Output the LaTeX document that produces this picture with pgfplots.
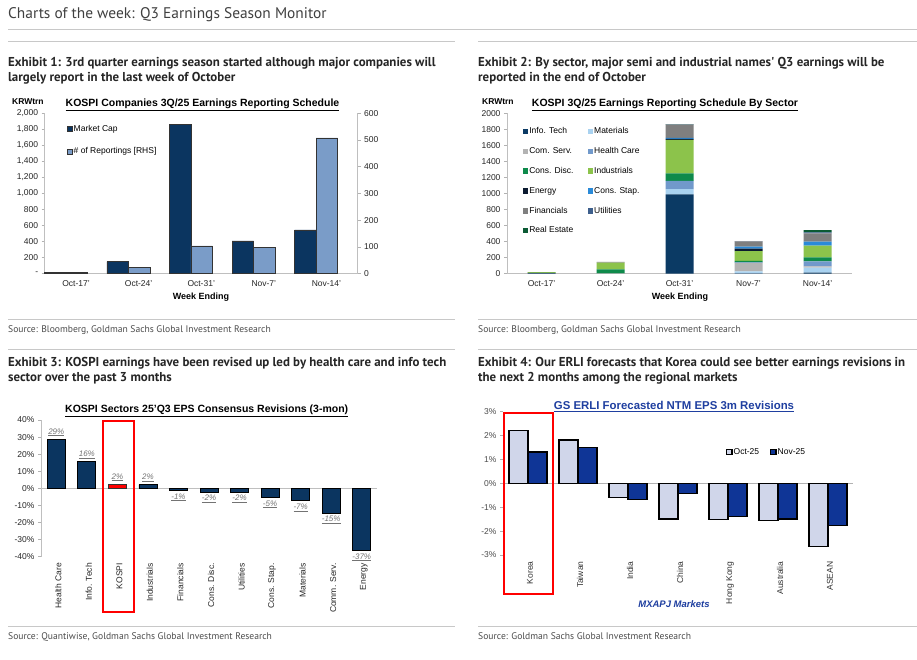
\documentclass[border=0pt]{standalone}
\usepackage{fontspec}
\setmainfont{Liberation Sans}
\newfontfamily\hd{PT Sans}
\usepackage{pgfplots}
\pgfplotsset{compat=1.18}
\usepackage{pgfplotstable}

\definecolor{mcap}{HTML}{0B3560}
\definecolor{rep}{HTML}{7A9CC8}
\definecolor{sIT}{HTML}{0B3A64}
\definecolor{sMat}{HTML}{A9D2F0}
\definecolor{sCom}{HTML}{B3B3B3}
\definecolor{sHC}{HTML}{7199CB}
\definecolor{sCD}{HTML}{0E8A4B}
\definecolor{sInd}{HTML}{8CC34B}
\definecolor{sEn}{HTML}{0B1A30}
\definecolor{sCS}{HTML}{2A8AD8}
\definecolor{sFin}{HTML}{7F7F7F}
\definecolor{sUt}{HTML}{3D5F8C}
\definecolor{sRE}{HTML}{0B5A34}
\definecolor{octc}{HTML}{D0D6EA}
\definecolor{novc}{HTML}{0F3596}
\definecolor{gsblue}{HTML}{1F3FA0}
\definecolor{rule}{HTML}{C8C8C8}

% sector breakdown, KRW trn, bottom to top
\pgfplotstableread{
x  it   mat com hc  cd  ind en  cs  fin ut  re
0  10   0   0   0   0   8   0   0   2   0   0
1  0    0   3   0   50  85  0   0   8   0   0
2  990  66  0   100 96  415 15  10  168 3   2
3  3    25  108 5   20  121 30  25  67  3   0
4  12   63  17  63  50  146 0   50  103 10  29
}\sectors

% 3m EPS revisions (%), up and down
\pgfplotstableread{
x  y      lab
0  28.8   29
1  15.8   16
3  2.2    2
}\revup
\pgfplotstableread{
x  y      lab
4  -1.4   -1
5  -2.1   -2
6  -2.2   -2
7  -5.4   -5
8  -7.3   -7
9  -14.6  -15
10 -36.5  -37
}\revdn

\pgfplotsset{
  gs/.style={scale only axis, clip=false,
    axis line style={draw=black!25, line width=0.6pt},
    tick style={draw=black!30, line width=0.6pt},
    tick align=outside, major tick length=3pt,
    tick label style={font=\fontsize{8.5}{10}\selectfont, text=black!85},
    /pgf/number format/assume math mode=true,
    /pgf/number format/1000 sep={}},
  sqimg/.style={legend image code/.code={\draw[##1] (0pt,-2.6pt) rectangle (5.2pt,2.6pt);}},
  sqfill/.style={legend image code/.code={\fill[##1] (0pt,-2.8pt) rectangle (5.6pt,2.8pt);}},
  sqlegend/.style={every axis plot post/.append style={sqimg}},
  sqflegend/.style={every axis plot post/.append style={sqfill}},
  revlab/.style={nodes near coords={\underline{\itshape\pgfplotspointmeta\%}},
    point meta=explicit symbolic,
    nodes near coords style={font=\fontsize{8}{9}\selectfont, text=black!55, inner sep=2.5pt}},
}

\begin{document}
\begin{tikzpicture}[x=1pt,y=1pt]
\fill[white] (0,0) rectangle (917,660);

% ---- page headings
\node[anchor=base west, font=\hd\fontsize{15.4}{18}\selectfont, text=black!75, inner sep=0pt] at (8,641) {Charts of the week: Q3 Earnings Season Monitor};
\draw[rule, line width=0.8pt] (8,631) -- (917,631);
\draw[rule, line width=0.8pt] (8,618.7) -- (455,618.7);
\draw[rule, line width=0.8pt] (478,618.7) -- (917,618.7);

\begin{scope}[every node/.style={anchor=base west, inner sep=0pt, font=\hd\bfseries\fontsize{12.9}{15}\selectfont, text=black!85}]
\node at (8,593) {Exhibit 1: 3rd quarter earnings season started although major companies will};
\node at (8,578) {largely report in the last week of October};
\node at (478,593) {Exhibit 2: By sector, major semi and industrial names' Q3 earnings will be};
\node at (478,578) {reported in the end of October};
\node at (8,293.3) {Exhibit 3: KOSPI earnings have been revised up led by health care and info tech};
\node at (8,278.5) {sector over the past 3 months};
\node at (478,293.3) {Exhibit 4: Our ERLI forecasts that Korea could see better earnings revisions in};
\node at (478,278.5) {the next 2 months among the regional markets};
\end{scope}

\draw[rule, line width=0.8pt] (8,341) -- (455,341);
\draw[rule, line width=0.8pt] (478,341) -- (917,341);
\draw[rule, line width=0.8pt] (8,311) -- (455,311);
\draw[rule, line width=0.8pt] (478,311) -- (917,311);
\draw[rule, line width=0.8pt] (8,34) -- (455,34);
\draw[rule, line width=0.8pt] (478,34) -- (917,34);

\begin{scope}[every node/.style={anchor=base west, inner sep=0pt, font=\hd\fontsize{9.6}{11}\selectfont, text=black!70}]
\node at (8,327) {Source: Bloomberg, Goldman Sachs Global Investment Research};
\node at (478,327) {Source: Bloomberg, Goldman Sachs Global Investment Research};
\node at (8,20) {Source: Quantiwise, Goldman Sachs Global Investment Research};
\node at (478,20) {Source: Goldman Sachs Global Investment Research};
\end{scope}

% ---- chart titles and labels
\begin{scope}[every node/.style={inner sep=0pt, font=\bfseries\fontsize{10.5}{12}\selectfont, text=black}]
\node[anchor=base] at (202.5,553.5) {\underline{KOSPI Companies 3Q/25 Earnings Reporting Schedule}};
\node[anchor=base] at (665,553.5) {\underline{KOSPI 3Q/25 Earnings Reporting Schedule By Sector}};
\node[anchor=base] at (206.7,247.5) {\underline{KOSPI Sectors 25'Q3 EPS Consensus Revisions (3-mon)}};
\node[anchor=base, font=\bfseries\fontsize{11.4}{13}\selectfont, text=gsblue] at (674,250.7) {\underline{GS ERLI Forecasted NTM EPS 3m Revisions}};
\node[anchor=base west, font=\bfseries\fontsize{8.5}{10}\selectfont] at (12,555) {KRWtrn};
\node[anchor=base west, font=\bfseries\fontsize{8.5}{10}\selectfont] at (482,555) {KRWtrn};
\node[anchor=base, font=\bfseries\fontsize{9}{11}\selectfont] at (201,360) {Week Ending};
\node[anchor=base, font=\bfseries\fontsize{9}{11}\selectfont] at (680,360) {Week Ending};
\node[anchor=base, font=\bfseries\itshape\fontsize{9.5}{11}\selectfont, text=gsblue] at (674,52.7) {MXAPJ Markets};
\end{scope}

% ---- Exhibit 1: market cap (LHS)
\begin{axis}[gs, sqlegend, at={(44.7pt,386.3pt)}, anchor=south west,
  width=313pt, height=160.4pt,
  xmin=-0.5, xmax=4.5, ymin=0, ymax=2000,
  axis y line*=left, axis x line*=bottom,
  xtick={0,...,4}, xticklabels={Oct-17',Oct-24',Oct-31',Nov-7',Nov-14'},
  xtick style={draw=none},
  extra x ticks={-0.5,0.5,...,4.5}, extra x tick labels={},
  extra x tick style={tick style={draw=black!30}},
  ytick={0,200,...,2000},
  yticklabels={-,200,400,600,800,{1,000},{1,200},{1,400},{1,600},{1,800},{2,000}},
  ybar, bar width=21.5pt,
  legend style={at={(0.07,0.935)}, anchor=north west, draw=none, fill=none,
    font=\fontsize{8.5}{10}\selectfont, row sep=12.5pt, inner sep=0pt,
    nodes={inner sep=1pt, text height=6.3pt, text depth=1.8pt}},
  legend cell align=left,
]
\addplot[fill=mcap, draw=black!80, line width=0.7pt, bar shift=-21pt]
  coordinates {(0,12) (1,150) (2,1865) (3,408) (4,546)};
\addlegendentry{Market Cap}
\addlegendimage{sqimg, fill=rep, draw=black!80, line width=0.7pt}
\addlegendentry{\# of Reportings [RHS]}
\end{axis}

% ---- Exhibit 1: number of reportings (RHS)
\begin{axis}[gs, at={(44.7pt,386.3pt)}, anchor=south west,
  width=313pt, height=160.4pt,
  xmin=-0.5, xmax=4.5, ymin=0, ymax=600,
  axis y line*=right, axis x line=none,
  ytick={0,100,...,600},
  ybar, bar width=21.5pt,
]
\addplot[fill=rep, draw=black!80, line width=0.7pt, bar shift=0.5pt]
  coordinates {(0,4) (1,24) (2,104) (3,98) (4,508)};
\end{axis}

% ---- Exhibit 2: stacked sectors
\begin{axis}[gs, sqflegend, at={(507pt,386.3pt)}, anchor=south west,
  width=345pt, height=160.4pt,
  xmin=-0.5, xmax=4.5, ymin=0, ymax=2000,
  axis y line*=left, axis x line*=bottom,
  xtick={0,...,4}, xticklabels={Oct-17',Oct-24',Oct-31',Nov-7',Nov-14'},
  xtick style={draw=none},
  extra x ticks={0.5,1.5,...,4.5}, extra x tick labels={},
  extra x tick style={tick style={draw=black!30}},
  ytick={0,200,...,2000},
  ybar stacked, bar width=28pt,
  legend columns=2,
  legend style={at={(0.045,0.918)}, anchor=north west, draw=none, fill=none,
    font=\fontsize{8.5}{10}\selectfont, row sep=9.7pt, inner sep=0pt,
    nodes={inner sep=1pt, text height=6.3pt, text depth=1.8pt},
    /tikz/every even column/.append style={column sep=13pt}},
  legend cell align=left,
]
\addplot[fill=sIT, draw=none] table[x=x,y=it]{\sectors}; \addlegendentry{Info. Tech}
\addplot[fill=sMat, draw=none] table[x=x,y=mat]{\sectors}; \addlegendentry{Materials}
\addplot[fill=sCom, draw=none] table[x=x,y=com]{\sectors}; \addlegendentry{Com. Serv.}
\addplot[fill=sHC, draw=none] table[x=x,y=hc]{\sectors}; \addlegendentry{Health Care}
\addplot[fill=sCD, draw=none] table[x=x,y=cd]{\sectors}; \addlegendentry{Cons. Disc.}
\addplot[fill=sInd, draw=none] table[x=x,y=ind]{\sectors}; \addlegendentry{Industrials}
\addplot[fill=sEn, draw=none] table[x=x,y=en]{\sectors}; \addlegendentry{Energy}
\addplot[fill=sCS, draw=none] table[x=x,y=cs]{\sectors}; \addlegendentry{Cons. Stap.}
\addplot[fill=sFin, draw=none] table[x=x,y=fin]{\sectors}; \addlegendentry{Financials}
\addplot[fill=sUt, draw=none] table[x=x,y=ut]{\sectors}; \addlegendentry{Utilities}
\addplot[fill=sRE, draw=none] table[x=x,y=re]{\sectors}; \addlegendentry{Real Estate}
\end{axis}

% ---- Exhibit 3: EPS revisions by sector
\begin{axis}[gs, at={(41pt,103.3pt)}, anchor=south west,
  width=336pt, height=136.7pt,
  xmin=-0.5, xmax=10.5, ymin=-40, ymax=40,
  axis y line*=left, axis x line*=bottom,
  x axis line style={draw=none}, xtick style={draw=none},
  ytick={-40,-30,...,40},
  yticklabels={-40\%,-30\%,-20\%,-10\%,0\%,10\%,20\%,30\%,40\%},
  extra y ticks={0}, extra y tick labels={},
  extra y tick style={grid=major, major grid style={draw=black!25, line width=0.8pt}, tick style={draw=none}},
  xtick={0,...,10},
  xticklabels={Health Care,Info. Tech,KOSPI,Industrials,Financials,Cons. Disc.,Utilities,Cons. Stap.,Materials,Comm. Serv.,Energy},
  xticklabel style={rotate=90, anchor=east, yshift=-2pt},
  ybar, bar width=18pt, bar shift=0pt,
]
\addplot[fill=mcap, draw=black, line width=0.8pt, revlab,
  nodes near coords style={anchor=south}] table[x=x,y=y,meta=lab]{\revup};
\addplot[fill=mcap, draw=black, line width=0.8pt, revlab,
  nodes near coords style={anchor=north}] table[x=x,y=y,meta=lab]{\revdn};
\addplot[fill=red, draw=black!80, line width=0.8pt, revlab,
  nodes near coords style={anchor=south}] coordinates {(2,2.5)[2]};
\end{axis}
\draw[red, line width=1.4pt] (103,239) rectangle (134,48);

% ---- Exhibit 4: ERLI forecasts
\begin{axis}[gs, sqlegend, at={(503pt,105pt)}, anchor=south west,
  width=350pt, height=143.3pt,
  xmin=-0.5, xmax=6.5, ymin=-3, ymax=3,
  axis y line*=left, axis x line*=bottom,
  x axis line style={draw=none}, xtick style={draw=none},
  ytick={-3,...,3},
  yticklabels={-3\%,-2\%,-1\%,0\%,1\%,2\%,3\%},
  yticklabel style={text=black!70},
  extra y ticks={0}, extra y tick labels={},
  extra y tick style={grid=major, major grid style={draw=black!30, line width=0.9pt}, tick style={draw=none}},
  xtick={0,...,6},
  xticklabels={Korea,Taiwan,India,China,Hong Kong,Australia,ASEAN},
  xticklabel style={rotate=90, anchor=east, yshift=-2pt, text=black!80},
  ybar, bar width=19pt,
  legend columns=2,
  legend style={at={(0.637,0.72)}, anchor=west, draw=none, fill=none,
    font=\fontsize{8.5}{10}\selectfont, inner sep=0pt,
    nodes={inner sep=1pt},
    /tikz/every even column/.append style={column sep=10pt}},
]
\addplot[fill=octc, draw=black, line width=1.3pt, bar shift=-9.5pt]
  coordinates {(0,2.22) (1,1.82) (2,-0.58) (3,-1.49) (4,-1.50) (5,-1.57) (6,-2.63)};
\addlegendentry{Oct-25}
\addplot[fill=novc, draw=black, line width=1.3pt, bar shift=9.5pt]
  coordinates {(0,1.31) (1,1.49) (2,-0.69) (3,-0.43) (4,-1.38) (5,-1.49) (6,-1.76)};
\addlegendentry{Nov-25}
\end{axis}
\draw[red, line width=1.4pt] (504,247) rectangle (553,66);

\pgfresetboundingbox
\path[use as bounding box] (0,0) rectangle (917,660);
\end{tikzpicture}
\end{document}
